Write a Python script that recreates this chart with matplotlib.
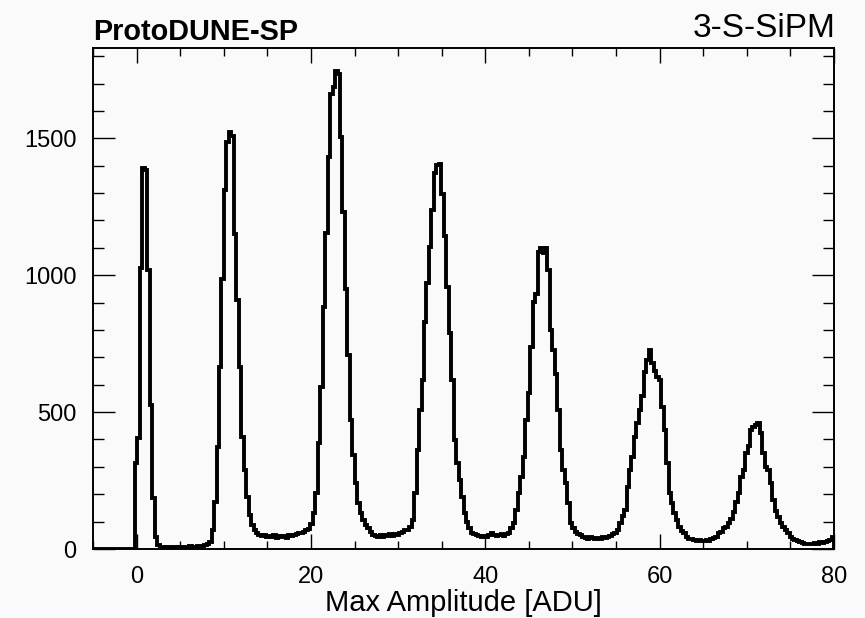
import numpy as np
import matplotlib
matplotlib.use("Agg")
import matplotlib.pyplot as plt
from matplotlib.ticker import MultipleLocator

# ---- data ----
bin_low = -5.0
bin_high = 80.0
n_bins = 300

counts = [
    0, 0, 0, 0, 0, 0, 0, 0, 0, 0,
    0, 0, 0, 0, 0, 0, 0, 314, 405, 1025,
    1390, 1385, 1020, 525, 186, 44, 15, 9, 6, 5,
    7, 4, 6, 8, 5, 7, 9, 6, 8, 10,
    7, 9, 12, 10, 12, 16, 18, 25, 70, 172,
    373, 665, 988, 1313, 1486, 1525, 1510, 1152, 909, 665,
    410, 288, 191, 124, 88, 69, 57, 52, 48, 50,
    45, 47, 44, 50, 42, 46, 45, 48, 40, 50,
    47, 52, 55, 60, 57, 62, 69, 72, 90, 131,
    204, 387, 592, 885, 1153, 1432, 1663, 1688, 1745, 1735,
    1506, 1231, 951, 708, 471, 343, 240, 167, 130, 106,
    88, 75, 63, 52, 48, 45, 52, 44, 50, 47,
    53, 48, 55, 52, 58, 62, 69, 69, 81, 106,
    204, 361, 507, 617, 830, 970, 1104, 1237, 1372, 1401,
    1405, 1298, 1143, 957, 788, 617, 398, 313, 252, 191,
    130, 100, 75, 57, 55, 52, 48, 45, 47, 44,
    50, 57, 52, 48, 50, 53, 48, 55, 60, 75,
    94, 142, 203, 264, 337, 471, 568, 738, 903, 933,
    1085, 1100, 1080, 1100, 1018, 799, 726, 641, 507, 361,
    288, 240, 167, 94, 75, 63, 55, 50, 45, 42,
    38, 45, 40, 36, 42, 38, 44, 40, 45, 48,
    55, 60, 69, 94, 120, 142, 227, 288, 337, 410,
    460, 507, 560, 647, 690, 728, 678, 650, 629, 617,
    520, 434, 313, 204, 167, 130, 106, 81, 65, 57,
    45, 38, 35, 33, 30, 32, 28, 30, 33, 29,
    35, 39, 45, 57, 62, 75, 82, 94, 110, 136,
    170, 204, 264, 288, 349, 375, 434, 446, 452, 460,
    422, 349, 300, 288, 240, 179, 140, 118, 94, 81,
    70, 57, 45, 38, 33, 28, 25, 22, 20, 18,
    20, 17, 22, 19, 24, 22, 27, 30, 33, 45,
]

x_major_ticks = [0, 20, 40, 60, 80]
y_major_ticks = [0, 500, 1000, 1500]
x_label = "Max Amplitude [ADU]"
left_title = "ProtoDUNE-SP"
right_title = "3-S-SiPM"

# ---- figure ----
plt.rcParams['font.family'] = ['Liberation Sans', 'DejaVu Sans']
bg = '#fafafa'
fig = plt.figure(figsize=(8.65, 6.18), dpi=100, facecolor=bg)
ax = fig.add_axes([93/865, 1-549/618, (834-93)/865, (549-48)/618], facecolor=bg)

edges = np.linspace(bin_low, bin_high, n_bins + 1)
ax.stairs(counts, edges, color='black', linewidth=2.8)

ax.set_xlim(bin_low, bin_high)
ax.set_ylim(0, 1830)
ax.set_xticks(x_major_ticks)
ax.set_yticks(y_major_ticks)
ax.xaxis.set_minor_locator(MultipleLocator(5))
ax.yaxis.set_minor_locator(MultipleLocator(100))

for s in ax.spines.values():
    s.set_linewidth(1.4)

ax.tick_params(axis='both', which='both', direction='in', top=True, right=True,
               width=1.0, labelsize=17)
ax.tick_params(axis='x', which='major', length=10.5, pad=12)
ax.tick_params(axis='x', which='minor', length=5.5)
ax.tick_params(axis='y', which='major', length=16, pad=12)
ax.tick_params(axis='y', which='minor', length=8)

ax.set_xlabel(x_label, fontsize=21)
ax.xaxis.label.set_va('baseline')
ax.xaxis.set_label_coords(0.5, -(611-549)/501)

fig.text(93/865, 1-40/618, left_title, fontsize=20.8, fontweight='bold',
         ha='left', va='baseline')
fig.text(836/865, 1-37/618, right_title, fontsize=24,
         ha='right', va='baseline')

fig.savefig('out.png', dpi=100, facecolor=bg)
